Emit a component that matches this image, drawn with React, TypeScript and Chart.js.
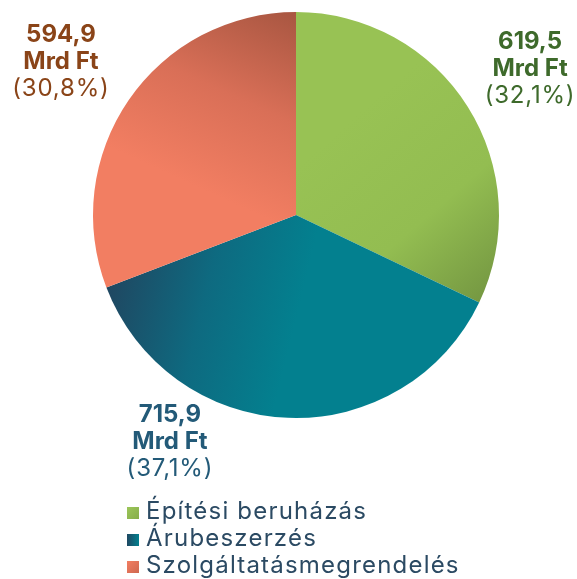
import React, { useEffect, useRef } from "react";
import { Chart, registerables } from "chart.js";

Chart.register(...registerables);

const categories = ["Építési beruházás", "Árubeszerzés", "Szolgáltatásmegrendelés"];
const valuesMrdFt = [619.5, 715.9, 594.9];
const percentLabels = ["32,1%", "37,1%", "30,8%"];
const valueLabels = ["619,5", "715,9", "594,9"];

const baseColors = ["#97c154", "#03808f", "#f27e62"];
const labelColors = ["#3e6a2b", "#235a78", "#8a4418"];
const legendTextColor = "#2b4a63";
const FONT = "Inter, 'Noto Sans', sans-serif";

function sliceGradient(ctx: CanvasRenderingContext2D, i: number, cx: number, cy: number, R: number) {
  let g: CanvasGradient;
  if (i === 0) {
    g = ctx.createLinearGradient(cx + 0.25 * R, cy - 0.45 * R, cx + 0.97 * R, cy + 0.38 * R);
    g.addColorStop(0, "#98c254");
    g.addColorStop(0.55, "#93bd51");
    g.addColorStop(1, "#759842");
  } else if (i === 1) {
    g = ctx.createLinearGradient(cx - 0.92 * R, cy + 0.38 * R, cx - 0.02 * R, cy + 0.6 * R);
    g.addColorStop(0, "#1f4862");
    g.addColorStop(0.5, "#0e6a80");
    g.addColorStop(1, "#03808f");
  } else {
    g = ctx.createLinearGradient(cx - 0.05 * R, cy - R, cx - 0.45 * R, cy - 0.12 * R);
    g.addColorStop(0, "#aa5742");
    g.addColorStop(0.5, "#d96f57");
    g.addColorStop(1, "#f27e62");
  }
  return g;
}

const labelOffsets = [
  { x: 1.153, y: -0.72 },
  { x: -0.621, y: 1.115 },
  { x: -1.158, y: -0.755 },
];

const labelsPlugin = {
  id: "sliceLabels",
  afterDatasetsDraw(chart: any) {
    const ctx: any = chart.ctx;
    const meta = chart.getDatasetMeta(0);
    ctx.save();
    ctx.textAlign = "center";
    ctx.textBaseline = "middle";
    meta.data.forEach((arc: any, i: number) => {
      const R = arc.outerRadius;
      const x = arc.x + labelOffsets[i].x * R;
      const y = arc.y + labelOffsets[i].y * R;
      ctx.fillStyle = labelColors[i];
      ctx.letterSpacing = "0px";
      ctx.font = `bold 24px ${FONT}`;
      ctx.fillText(valueLabels[i], x, y - 27);
      ctx.fillText("Mrd Ft", x, y);
      ctx.font = `normal 24px ${FONT}`;
      ctx.letterSpacing = "0.8px";
      ctx.fillText(`(${percentLabels[i]})`, x, y + 27);
    });
    ctx.restore();
  },
};

const legendPlugin = {
  id: "vertLegend",
  afterDraw(chart: any) {
    const ctx: any = chart.ctx;
    ctx.save();
    const x0 = 127;
    const baseY = 519;
    const step = 27;
    const size = 12;
    ctx.font = `normal 24px ${FONT}`;
    ctx.letterSpacing = "1.2px";
    ctx.textAlign = "left";
    ctx.textBaseline = "alphabetic";
    categories.forEach((label, i) => {
      const by = baseY + i * step;
      let g: CanvasGradient;
      if (i === 0) {
        g = ctx.createLinearGradient(x0, by - size, x0 + size, by);
        g.addColorStop(0, "#9cc659");
        g.addColorStop(1, "#86ad4a");
      } else if (i === 1) {
        g = ctx.createLinearGradient(x0, by, x0 + size, by);
        g.addColorStop(0, "#1f4862");
        g.addColorStop(1, "#03808f");
      } else {
        g = ctx.createLinearGradient(x0, by - size, x0 + size, by);
        g.addColorStop(0, "#f27e62");
        g.addColorStop(1, "#cf6850");
      }
      ctx.fillStyle = g;
      ctx.fillRect(x0, by - size, size, size);
      ctx.fillStyle = legendTextColor;
      ctx.fillText(label, 146, by);
    });
    ctx.restore();
  },
};

export default function App() {
  const ref = useRef<HTMLCanvasElement | null>(null);
  useEffect(() => {
    document.body.style.margin = "0";
    if (!ref.current) return;
    const chart = new Chart(ref.current, {
      type: "pie",
      data: {
        labels: categories,
        datasets: [
          {
            data: valuesMrdFt,
            borderWidth: 0,
            hoverOffset: 0,
            backgroundColor: (c: any) => {
              const area = c.chart.chartArea;
              const i = c.dataIndex;
              if (!area || i === undefined) return baseColors[i ?? 0];
              const cx = (area.left + area.right) / 2;
              const cy = (area.top + area.bottom) / 2;
              const R = Math.min(area.right - area.left, area.bottom - area.top) / 2;
              return sliceGradient(c.chart.ctx, i, cx, cy, R);
            },
          },
        ],
      },
      options: {
        responsive: false,
        animation: false,
        layout: { padding: { left: 93, right: 78, top: 12, bottom: 161 } },
        plugins: {
          legend: { display: false },
          tooltip: { enabled: false },
        },
      },
      plugins: [labelsPlugin, legendPlugin],
    });
    return () => chart.destroy();
  }, []);
  return (
    <div style={{ position: "absolute", left: 0, top: 0, width: 577, height: 579 }}>
      <canvas ref={ref} width={577} height={579} />
    </div>
  );
}
